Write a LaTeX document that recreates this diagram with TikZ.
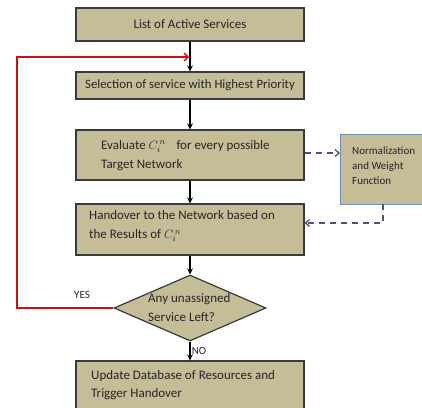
\documentclass[tikz,border=0pt]{standalone}
\usepackage{fontspec}
\setmainfont{Carlito}
\usetikzlibrary{arrows.meta,shapes.geometric}
\definecolor{tanfill}{HTML}{C4BD97}
\definecolor{boxline}{HTML}{3A3A3A}
\definecolor{redline}{HTML}{D01010}
\definecolor{purp}{HTML}{604A7B}
\definecolor{bluebd}{HTML}{6F8FBF}
\begin{document}
\begin{tikzpicture}[x=1pt,y=-1pt,
  procbox/.style={draw=boxline,fill=tanfill,line width=1.2pt,minimum width=228pt,inner sep=0pt,font=\fontsize{13}{15}\selectfont,text=black!85},
  flowarr/.style={-{Stealth[length=6pt,width=6pt]},line width=1.1pt,black},
  dasharr/.style={-{Straight Barb[length=4pt,width=7pt]},dashed,dash pattern=on 6pt off 5pt,line width=1.3pt,purp},
  lbl/.style={font=\fontsize{11}{13}\selectfont,text=black!85},
  btxt/.style={anchor=north west,align=left,text=black!85,inner sep=0pt}]
\clip (0,0) rectangle (422,407);
\fill[white] (0,0) rectangle (422,407);
% boxes
\node[procbox,minimum height=33pt] (b1) at (190,24.5) {List of Active Services};
\node[procbox,minimum height=27pt] (b2) at (190,85.5) {\fontsize{12.8}{15}\selectfont Selection of service with Highest Priority};
\node[procbox,minimum height=50pt] (b3) at (190,155) {};
\node[procbox,minimum height=51pt] (b4) at (190,229.5) {};
\node[procbox,minimum height=60pt] (b5) at (190,391) {};
\node[btxt,font=\fontsize{13}{19}\selectfont] (t3) at (101,140) {Evaluate $C_i^{\,n}$\hspace{8pt} for every possible\\Target Network};
\node[btxt,font=\fontsize{13}{19.5}\selectfont] (t4) at (89,210) {Handover to the Network based on\\the Results of $C_i^{\,n}$};
\node[btxt,font=\fontsize{13}{18.5}\selectfont] (t5) at (91,370) {Update Database of Resources and\\Trigger Handover};
% normalization box
\node[draw=bluebd,fill=tanfill,line width=1pt,minimum width=84pt,minimum height=70pt,inner sep=0pt,anchor=north west] (nb) at (340,134) {};
\node[btxt,font=\fontsize{11}{15}\selectfont] (tn) at (352,147) {Normalization\\and Weight\\Function};
% diamond
\node[diamond,draw=boxline,fill=tanfill,line width=1.2pt,minimum width=152pt,minimum height=66pt,inner sep=0pt,aspect=2.3] (d) at (190,308) {};
\node[btxt,font=\fontsize{13}{19}\selectfont] (td) at (148,293) {Any unassigned\\Service Left?};
% arrows
\draw[flowarr] (b1.south) -- (b2.north);
\draw[flowarr] (b2.south) -- (b3.north);
\draw[flowarr] (b3.south) -- (b4.north);
\draw[flowarr] (b4.south) -- (d.north);
\draw[flowarr] (d.south) -- node[right,lbl,xshift=-2pt] (no) {NO} (b5.north);
\coordinate (rl) at (17,57);
\coordinate (rb) at (17,308);
\coordinate (rt) at (189,57);
\draw[redline,line width=1.3pt,-{Straight Barb[length=4pt,width=8pt]}] (d.west) -- (rb) -- (rl) -- (rt);
\node[lbl] (yes) at (82,295) {YES};
% dashed
\draw[dasharr] (b3.east |- 0,153) -- (nb.west |- 0,153);
\coordinate (nd) at (383,223);
\draw[dasharr] (383,204) -- (nd) -- (b4.east |- nd);
\end{tikzpicture}
\end{document}
